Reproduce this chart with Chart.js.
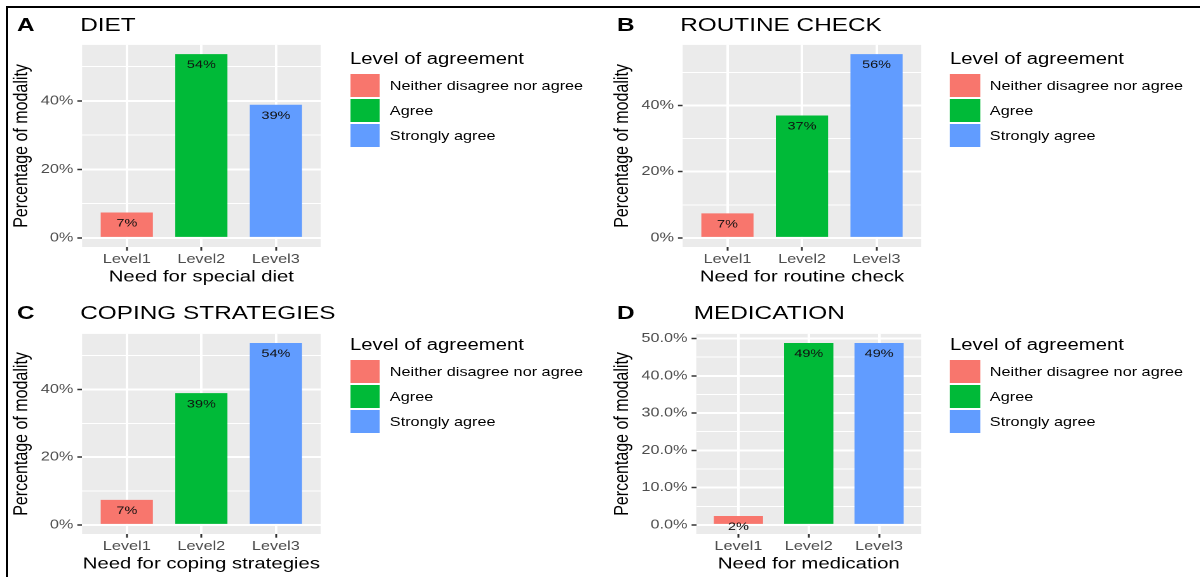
<!DOCTYPE html>
<html lang="en">
<head>
<meta charset="UTF-8">
<title>Level of agreement by need</title>
<script src="https://cdn.jsdelivr.net/npm/chart.js"></script>
<style>
  body { margin: 0; background: #fff; width: 1200px; height: 577px; overflow: hidden; position: relative; font-family: "Liberation Sans", Arial, sans-serif; color: #000; }
  #frame { position: absolute; left: 6px; top: 6px; width: 1300px; height: 700px; border-top: 2px solid #000; border-left: 2px solid #000; }
  /* the figure is laid out at 945px and stretched to the 1200px window */
  #fig { position: absolute; left: 0; top: 0; width: 945px; height: 577px; transform: scaleX(1.26984); transform-origin: 0 0; }
  #fig canvas { position: absolute; }
  .tag { position: absolute; font-weight: bold; font-size: 19.2px; line-height: 19.2px; }
  .title { position: absolute; font-size: 19.2px; line-height: 19.2px; white-space: nowrap; }
  .lg-title { position: absolute; font-size: 16px; line-height: 16px; white-space: nowrap; }
  .lg-key { position: absolute; width: 23.5px; height: 23px; }
  .lg-label { position: absolute; font-size: 12.8px; line-height: 23px; height: 23px; white-space: nowrap; }
</style>
</head>
<body>
<div id="frame"></div>
<div id="fig"></div>

<script>
  const categories = ['Level1', 'Level2', 'Level3'];
  const agreementLevels = ['Neither disagree nor agree', 'Agree', 'Strongly agree'];
  const agreementColors = ['#F8766D', '#00BA38', '#619CFF'];

  const panelTags = ['A', 'B', 'C', 'D'];
  const panelTitles = ['DIET', 'ROUTINE CHECK', 'COPING STRATEGIES', 'MEDICATION'];
  const xTitles = ['Need for special diet', 'Need for routine check', 'Need for coping strategies', 'Need for medication'];

  // percent of respondents per level
  const dietPct = [7.4, 53.7, 38.9];
  const routinePct = [7.4, 37.0, 55.6];
  const copingPct = [7.4, 38.9, 53.7];
  const medicationPct = [2.4, 48.8, 48.8];

  const ticksWhole = [0, 20, 40];
  const tickLabelsWhole = ['0%', '20%', '40%'];
  const ticksDecimal = [0, 10, 20, 30, 40, 50];
  const tickLabelsDecimal = ['0.0%', '10.0%', '20.0%', '30.0%', '40.0%', '50.0%'];

  const panelValues = [dietPct, routinePct, copingPct, medicationPct];
  const panelTicks = [ticksWhole, ticksWhole, ticksWhole, ticksDecimal];
  const panelTickLabels = [tickLabelsWhole, tickLabelsWhole, tickLabelsWhole, tickLabelsDecimal];

  const colX = [0, 472.5];
  const rows = [
    { canvasTop: 34, canvasH: 255, titleTop: 14.6, legendShift: 0 },
    { canvasTop: 323, canvasH: 253, titleTop: 303.2, legendShift: 286 }
  ];

  const fig = document.getElementById('fig');
  Chart.defaults.font.family = '"Liberation Sans", Arial, sans-serif';

  const panelBackground = {
    id: 'panelBackground',
    beforeDraw(chart) {
      const { ctx, chartArea: a } = chart;
      ctx.save();
      ctx.fillStyle = '#EBEBEB';
      ctx.fillRect(a.left, a.top, a.right - a.left, a.bottom - a.top);
      ctx.restore();
    }
  };

  const barLabels = {
    id: 'barLabels',
    afterDatasetsDraw(chart) {
      const { ctx } = chart;
      const meta = chart.getDatasetMeta(0);
      const points = chart.data.datasets[0].data;
      ctx.save();
      ctx.font = '11.4px "Liberation Sans", Arial, sans-serif';
      ctx.fillStyle = '#111';
      ctx.textAlign = 'center';
      ctx.textBaseline = 'middle';
      meta.data.forEach((bar, i) => {
        ctx.fillText(Math.round(points[i].y) + '%', bar.x, bar.y + 11);
      });
      ctx.restore();
    }
  };

  function addDiv(cls, text, left, top) {
    const d = document.createElement('div');
    d.className = cls;
    if (text) d.textContent = text;
    d.style.left = left + 'px';
    d.style.top = top + 'px';
    fig.appendChild(d);
    return d;
  }

  function makeChart(canvas, p) {
    const values = panelValues[p];
    const majors = panelTicks[p];
    const labels = panelTickLabels[p];
    const maxV = Math.max(...values);
    const step = majors[1] - majors[0];
    const minors = majors.map(t => t + step / 2).filter(t => t < maxV * 1.05);
    const isMajor = v => majors.includes(v);

    return new Chart(canvas, {
      type: 'bar',
      data: {
        datasets: [{
          data: values.map((v, i) => ({ x: i + 1, y: v })),
          backgroundColor: agreementColors,
          borderWidth: 0,
          barPercentage: 0.7,
          categoryPercentage: 1
        }]
      },
      options: {
        responsive: false,
        animation: false,
        devicePixelRatio: 2,
        layout: { padding: { left: 0, right: 9.5, top: 8, bottom: 0 } },
        plugins: { legend: { display: false }, tooltip: { enabled: false } },
        scales: {
          x: {
            type: 'linear',
            min: 0.4,
            max: 3.6,
            offset: false,
            afterBuildTicks: s => { s.ticks = categories.map((c, i) => ({ value: i + 1 })); },
            afterFit: s => { s.height = 42; },
            border: { display: false },
            grid: { offset: false, color: '#FFFFFF', lineWidth: 2, tickColor: '#333333', tickLength: 3.7, tickWidth: 1.5 },
            ticks: {
              padding: 1, color: '#4D4D4D', font: { size: 12.8 }, maxRotation: 0, autoSkip: false,
              callback: v => categories[v - 1]
            },
            title: { display: true, text: xTitles[p], color: '#000', font: { size: 16 }, padding: { top: 0, bottom: 2.4 } }
          },
          y: {
            min: -0.05 * maxV,
            max: 1.05 * maxV,
            afterBuildTicks: s => { s.ticks = majors.concat(minors).sort((a, b) => a - b).map(v => ({ value: v })); },
            border: { display: false },
            grid: {
              color: '#FFFFFF',
              lineWidth: c => isMajor(c.tick.value) ? 2 : 1,
              tickColor: c => isMajor(c.tick.value) ? '#333333' : 'rgba(0,0,0,0)',
              tickLength: 3.7,
              tickWidth: 1.5
            },
            ticks: {
              padding: 3.2, color: '#4D4D4D', font: { size: 12.8 }, autoSkip: false,
              callback: v => { const k = majors.indexOf(v); return k >= 0 ? labels[k] : ''; }
            },
            title: { display: true, text: 'Percentage of modality', color: '#000', font: { size: 16 }, padding: { top: 7.7, bottom: 2 } }
          }
        }
      },
      plugins: [panelBackground, barLabels]
    });
  }

  panelValues.forEach((vals, p) => {
    const px = colX[p % 2];
    const row = rows[Math.floor(p / 2)];

    const canvas = document.createElement('canvas');
    canvas.width = 262;
    canvas.height = row.canvasH;
    canvas.style.left = px + 'px';
    canvas.style.top = row.canvasTop + 'px';
    fig.appendChild(canvas);
    const chart = makeChart(canvas, p);

    addDiv('tag', panelTags[p], px + 13.4, row.titleTop);
    addDiv('title', panelTitles[p], px + chart.chartArea.left - 1.5, row.titleTop);

    const lx = px + 275.6;
    const ly = row.legendShift;
    addDiv('lg-title', 'Level of agreement', lx, ly + 50.8);
    agreementLevels.forEach((lvl, i) => {
      const key = addDiv('lg-key', '', lx, ly + 74 + i * 25);
      key.style.background = agreementColors[i];
      addDiv('lg-label', lvl, px + 307, ly + 74 + i * 25);
    });
  });
</script>
</body>
</html>
